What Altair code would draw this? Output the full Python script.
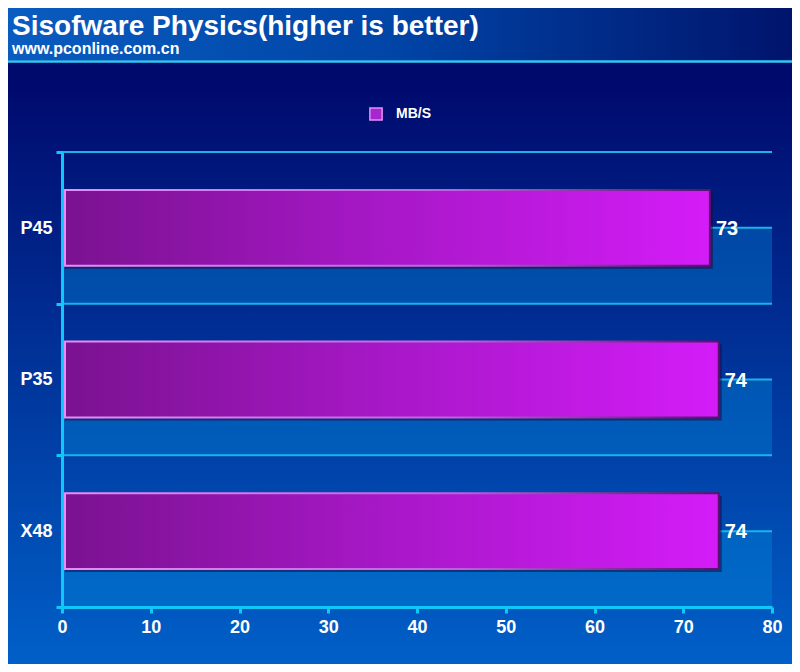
import altair as alt
import pandas as pd

# ---- data ----
categories = ["P45", "P35", "X48"]
values = [73, 74, 74]
series_name = "MB/S"
x_ticks = [0, 10, 20, 30, 40, 50, 60, 70, 80]

df = pd.DataFrame({
    "cat": categories,
    "value": values,
    "idx": list(range(len(categories))),
    "series": [series_name] * len(categories),
})

FONT = "Liberation Sans"
W, H = 710, 455
PL, PT, PR, PB = 54, 144, 20, 57

yscale = alt.Scale(domain=[0, len(categories)], reverse=True, nice=False, zero=False)
xscale = alt.Scale(domain=[0, 80], nice=False)

one = alt.Data(values=[{}])

# full background (vertical gradient)
bg = alt.Chart(one).mark_rect(
    clip=False,
    fill=alt.LinearGradient(
        gradient="linear", x1=0, x2=0, y1=0, y2=1,
        stops=[alt.GradientStop(color="#000866", offset=0.0),
               alt.GradientStop(color="#000a6e", offset=0.12),
               alt.GradientStop(color="#0060c8", offset=1.0)],
    ),
).encode(x=alt.value(-PL), x2=alt.value(W + PR), y=alt.value(-PT), y2=alt.value(H + PB))

# title bar (horizontal gradient)
titlebar = alt.Chart(one).mark_rect(
    clip=False,
    fill=alt.LinearGradient(
        gradient="linear", x1=0, x2=1, y1=0, y2=0,
        stops=[alt.GradientStop(color="#0a5cc0", offset=0.0),
               alt.GradientStop(color="#0044a6", offset=0.5),
               alt.GradientStop(color="#00146c", offset=1.0)],
    ),
).encode(x=alt.value(-PL), x2=alt.value(W + PR), y=alt.value(-PT), y2=alt.value(-92))

titleline = alt.Chart(one).mark_rule(clip=False, color="#30c8f4", strokeWidth=2.5).encode(
    x=alt.value(-PL), x2=alt.value(W + PR), y=alt.value(-90.5)
)

base = alt.Chart(df)

# alternating lighter bands (lower half of each category)
bands = base.transform_calculate(
    b0="datum.idx + 0.5", b1="datum.idx + 1", x0="0", x1="80"
).mark_rect(fill="#0088d8", opacity=0.4).encode(
    x=alt.X("x0:Q", scale=xscale), x2="x1:Q",
    y=alt.Y("b0:Q", scale=yscale), y2="b1:Q",
)

# grid lines at every half category
grid = base.transform_calculate(g0="datum.idx", g1="datum.idx + 0.5").transform_fold(
    ["g0", "g1"], as_=["k", "gy"]
).mark_rule(color="#1ab4ec", strokeWidth=2).encode(
    y=alt.Y("gy:Q", scale=yscale),
    x=alt.value(0), x2=alt.value(W),
)

bar_pos = base.transform_calculate(y0="datum.idx + 0.25", y1="datum.idx + 0.75", zero="0")

shadow = bar_pos.mark_rect(fill="#200840", opacity=0.55, xOffset=3, yOffset=3,
                           x2Offset=3, y2Offset=3).encode(
    x=alt.X("zero:Q", scale=xscale), x2="value:Q",
    y=alt.Y("y0:Q", scale=yscale), y2="y1:Q",
)

bars = bar_pos.mark_rect(
    fill=alt.LinearGradient(
        gradient="linear", x1=0, x2=1, y1=0, y2=0,
        stops=[alt.GradientStop(color="#7a1290", offset=0.0),
               alt.GradientStop(color="#a818c8", offset=0.5),
               alt.GradientStop(color="#d41cf8", offset=1.0)],
    ),
    stroke=alt.LinearGradient(
        gradient="linear", x1=0, x2=1, y1=0, y2=0,
        stops=[alt.GradientStop(color="#e88cf8", offset=0.0),
               alt.GradientStop(color="#c060e0", offset=0.6),
               alt.GradientStop(color="#5a1070", offset=1.0)],
    ),
    strokeWidth=2,
    xOffset=3,
    x2Offset=0,
).encode(
    x=alt.X("zero:Q", scale=xscale,
            axis=alt.Axis(values=x_ticks, title=None, grid=False, zindex=2,
                          labelFlush=False,
                          domainColor="#10c8f8", domainWidth=3,
                          tickColor="#10c8f8", tickWidth=3, tickSize=6,
                          labelColor="white", labelFont=FONT, labelFontSize=18,
                          labelFontWeight="bold", labelPadding=5)),
    x2="value:Q",
    y=alt.Y("y0:Q", scale=yscale,
            axis=alt.Axis(values=list(range(len(categories) + 1)), title=None, grid=False,
                          zindex=2, labelFlush=False,
                          labelExpr="[" + ",".join("'%s'" % c for c in categories) + "][datum.value] || ''",
                          labelOffset=76, labelBaseline="middle",
                          domainColor="#10c8f8", domainWidth=3,
                          tickColor="#10c8f8", tickWidth=3, tickSize=6,
                          labelColor="white", labelFont=FONT, labelFontSize=18,
                          labelFontWeight="bold", labelPadding=4)),
    y2="y1:Q",
)

labels = base.transform_calculate(yc="datum.idx + 0.5").mark_text(
    align="left", baseline="middle", dx=6, dy=1, color="white",
    font=FONT, fontSize=20, fontWeight="bold",
).encode(
    x=alt.X("value:Q", scale=xscale),
    y=alt.Y("yc:Q", scale=yscale),
    text="value:Q",
)

legend_layer = base.mark_point(shape="square", filled=True, opacity=0).encode(
    x=alt.X("value:Q", scale=xscale),
    y=alt.Y("idx:Q", scale=yscale),
    color=alt.Color("series:N", scale=alt.Scale(range=["#a826d0"]),
                    legend=alt.Legend(title=None, orient="none", legendX=307, legendY=-45,
                                      symbolType="square", symbolSize=150,
                                      symbolOpacity=1, symbolStrokeColor="#e090f4",
                                      symbolStrokeWidth=1.5,
                                      labelColor="white", labelFont=FONT,
                                      labelFontSize=14, labelFontWeight="bold",
                                      labelOffset=13, padding=0)),
)

chart = alt.layer(
    bg, titlebar, titleline, bands, grid, shadow, bars, labels, legend_layer
).properties(
    width=W, height=H,
    padding={"left": PL, "top": PT, "right": PR, "bottom": PB},
    autosize=alt.AutoSizeParams(type="none"),
    title=alt.TitleParams(
        text="Sisofware Physics(higher is better)",
        subtitle="www.pconline.com.cn",
        anchor="start", frame="group", dx=-50, dy=49,
        font=FONT, fontSize=28, fontWeight="bold", color="white",
        subtitleFont=FONT, subtitleFontSize=16, subtitleFontWeight="bold",
        subtitleColor="white", subtitlePadding=0, offset=0, zindex=2,
    ),
).configure_view(stroke=None).configure(background="#000a6e")

chart.save("out.html", embed_options={"renderer": "svg", "actions": False})
